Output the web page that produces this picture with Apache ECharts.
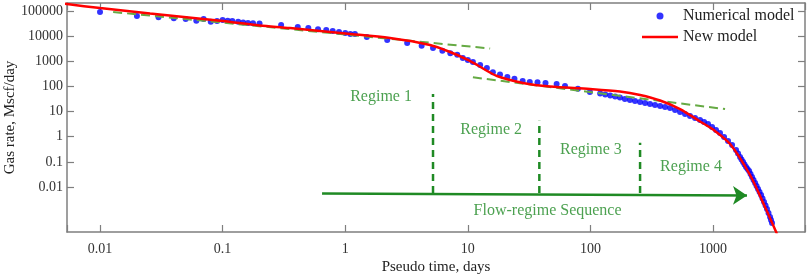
<!DOCTYPE html>
<html>
<head>
<meta charset="utf-8">
<script src="https://cdn.jsdelivr.net/npm/echarts@6/dist/echarts.min.js"></script>
<style>
  html, body { margin: 0; padding: 0; background: #fff; }
  #chart { width: 809px; height: 277px; }
</style>
</head>
<body>
<div id="chart"></div>
<script>
// pseudo time (days) and gas rate (Mscf/day)
const numericalTime = [0.01, 0.02, 0.03, 0.04, 0.05, 0.061, 0.07, 0.08, 0.09, 0.1, 0.11, 0.12, 0.134, 0.147, 0.161, 0.177, 0.2,
  0.3, 0.41, 0.5, 0.6, 0.7, 0.79, 0.89, 1.0, 1.1, 1.2, 1.5, 2.2, 3.2, 4.2, 5.2, 6.2, 7.2, 8.2, 9.1, 10, 11, 12.6, 14.3, 16,
  18.3, 21, 24, 28, 32, 37, 43, 53, 62, 79, 99, 120, 132, 145, 159, 174, 191, 210, 231, 254, 279, 306, 336, 370, 406, 446,
  490, 538, 591, 649, 713, 783, 845, 910, 982, 1057, 1140, 1230, 1325, 1430, 1540, 1600, 1660, 1707, 1758, 1806, 1858,
  1911, 1968, 2022, 2080, 2139, 2203, 2264, 2328, 2394, 2466, 2533, 2606, 2680, 2754, 2834, 2917, 2970, 3027];
const numericalRate = [91000, 63000, 56000, 51000, 48000, 41000, 48000, 37500, 40000, 44000, 41000, 40000, 37500, 35000,
  33000, 32500, 32000, 28000, 23000, 21000, 19000, 17500, 16000, 14500, 13300, 12200, 12200, 9300, 7100, 5300, 4100, 3400,
  2600, 2100, 1800, 1350, 1120, 940, 710, 540, 370, 295, 235, 200, 165, 150, 145, 138, 126, 104, 80, 60, 52, 47.7, 43.5,
  39.7, 36.2, 31.6, 28.8, 26.3, 24, 21.9, 20, 18.2, 16.6, 15.2, 13.9, 11.5, 9.6, 8.0, 6.65, 5.55, 4.61, 3.84, 3.2, 2.43,
  1.85, 1.40, 0.97, 0.675, 0.468, 0.296, 0.215, 0.156, 0.124, 0.0986, 0.0783, 0.0624, 0.0519, 0.0432, 0.0328, 0.0249,
  0.019, 0.0144, 0.0109, 0.0083, 0.0063, 0.0048, 0.00348, 0.00253, 0.00183, 0.00133, 0.00092, 0.00064, 0.00049, 0.00037];

const modelTime = [0.005, 0.01, 0.0256, 0.1, 0.2, 0.355, 1, 2.32, 4.92, 7.16, 10, 11.9, 17.3, 28.2, 46.8, 99.3, 174, 254,
  370, 538, 783, 1000, 1377, 2003, 2654, 3325];
const modelRate = [197000, 131000, 79600, 40000, 26500, 21100, 12700, 8430, 4450, 2340, 1125, 711, 259, 137, 99, 79, 62.8,
  45.6, 27.5, 12.6, 4.03, 1.93, 0.513, 0.030, 0.0016, 0.000135];

// dashed tangents (start / end)
const tangent1Time = [0.0128, 15.2];
const tangent1Rate = [91000, 3220];
const tangent2Time = [11.0, 1253];
const tangent2Rate = [231, 12.6];

// regime boundaries
const boundaryTime = [5.2, 38.3, 254];
const boundaryTop = [50, 4.3, 0.577];
const boundaryBottom = 0.00575;

const regimeNames = ['Regime 1', 'Regime 2', 'Regime 3', 'Regime 4'];
const regimeLabelTime = [1.96, 15.5, 101, 661];
const regimeLabelRate = [38, 1.85, 0.296, 0.0653];

const arrowTime = [0.647, 1892];
const arrowRate = [0.0055, 0.00458];
const sequenceName = 'Flow-regime Sequence';
const sequenceAt = [44.7, 0.00111];

const decadeTicks = [0.01, 0.1, 1, 10, 100, 1000, 10000, 100000];

const serif = 'Liberation Serif';
const axisGray = '#7f7f7f';
const regimeGreen = '#1f8a24';

function zip(xs, ys) {
  return xs.map((x, i) => [x, ys[i]]);
}

function decadeLabel(v) {
  const e = Math.log10(v);
  const r = Math.round(e);
  if (Math.abs(e - r) > 1e-6 || r < -2) return '';
  return r >= 0 ? String(Math.pow(10, r)) : '0.' + '0'.repeat(-r - 1) + '1';
}

function frameAxis(pos, min, max, extra) {
  return Object.assign({
    type: 'log',
    logBase: 10,
    position: pos,
    min: min,
    max: max,
    axisLine: { show: true, onZero: false, lineStyle: { color: axisGray, width: 1.5 } },
    axisTick: { show: true, inside: true, length: 7, lineStyle: { color: axisGray, width: 1.2 } },
    axisLabel: { show: false },
    splitLine: { show: false },
    minorTick: { show: false }
  }, extra);
}

const xMin = 0.00538, xMax = 5623;
const yMin = 0.000162, yMax = 208000;

let chart = echarts.init(document.getElementById('chart'));

const boundarySeries = boundaryTime.map((t, i) => ({
  type: 'line',
  silent: true,
  symbol: 'none',
  z: 3,
  lineStyle: { color: regimeGreen, width: 2.5, type: [7, 5] },
  data: [[t, boundaryBottom], [t, boundaryTop[i]]]
}));

chart.setOption({
  animation: false,
  grid: { left: 67, right: 4, top: 3, bottom: 45, outerBoundsMode: 'none' },
  legend: {
    data: [
      { name: 'Numerical model', icon: 'circle' },
      { name: 'New model', icon: 'path://M0,0 L36,0 L36,2.5 L0,2.5 Z' }
    ],
    orient: 'vertical',
    left: 637,
    top: 3,
    itemWidth: 36,
    itemHeight: 7,
    itemGap: 5,
    textStyle: { fontFamily: serif, fontSize: 16, color: '#222' }
  },
  xAxis: [
    frameAxis('bottom', xMin, xMax, {
      name: 'Pseudo time, days',
      nameLocation: 'middle',
      nameGap: 28,
      nameMoveOverlap: false,
      nameTextStyle: { fontFamily: serif, fontSize: 15, color: '#222' },
      axisLabel: { show: true, margin: 10, fontFamily: serif, fontSize: 14, color: '#333', formatter: decadeLabel }
    }),
    frameAxis('top', xMin, xMax, {})
  ],
  yAxis: [
    frameAxis('left', yMin, yMax, {
      name: 'Gas rate, Mscf/day',
      nameLocation: 'middle',
      nameGap: 49,
      nameRotate: 90,
      nameMoveOverlap: false,
      nameTextStyle: { fontFamily: serif, fontSize: 15, color: '#222' },
      axisTick: { show: true, inside: true, length: 7, customValues: decadeTicks, lineStyle: { color: axisGray, width: 1.2 } },
      axisLabel: { show: true, margin: 4, fontFamily: serif, fontSize: 14, color: '#333', formatter: decadeLabel }
    }),
    frameAxis('right', yMin, yMax, {
      axisTick: { show: true, inside: true, length: 7, customValues: decadeTicks, lineStyle: { color: axisGray, width: 1.2 } }
    })
  ],
  series: [
    {
      name: 'Numerical model',
      type: 'scatter',
      symbol: 'circle',
      symbolSize: 6,
      z: 2,
      itemStyle: { color: '#0000ff' },
      data: zip(numericalTime, numericalRate)
    },
    {
      type: 'line',
      silent: true,
      symbol: 'none',
      z: 3,
      lineStyle: { color: '#66aa44', width: 2, type: [9, 5] },
      data: zip(tangent1Time, tangent1Rate)
    },
    {
      type: 'line',
      silent: true,
      symbol: 'none',
      z: 3,
      lineStyle: { color: '#66aa44', width: 2, type: [9, 5] },
      data: zip(tangent2Time, tangent2Rate)
    },
    {
      name: 'New model',
      type: 'line',
      symbol: 'none',
      smooth: 0.3,
      z: 4,
      clip: true,
      lineStyle: { color: '#ff0000', width: 2.5 },
      itemStyle: { color: '#ff0000' },
      data: zip(modelTime, modelRate)
    },
    ...boundarySeries,
    {
      type: 'lines',
      coordinateSystem: 'cartesian2d',
      silent: true,
      z: 3,
      symbol: ['none', 'arrow'],
      symbolSize: 14,
      lineStyle: { color: regimeGreen, width: 2.5, opacity: 1 },
      data: [{ coords: zip(arrowTime, arrowRate) }]
    },
    {
      type: 'scatter',
      silent: true,
      symbolSize: 0,
      z: 5,
      label: {
        show: true,
        position: 'inside',
        formatter: '{b}',
        fontFamily: serif,
        fontSize: 16,
        color: regimeGreen
      },
      data: regimeNames.map((n, i) => ({ name: n, value: [regimeLabelTime[i], regimeLabelRate[i]] }))
        .concat([{ name: sequenceName, value: sequenceAt }])
    }
  ]
});
</script>
</body>
</html>
